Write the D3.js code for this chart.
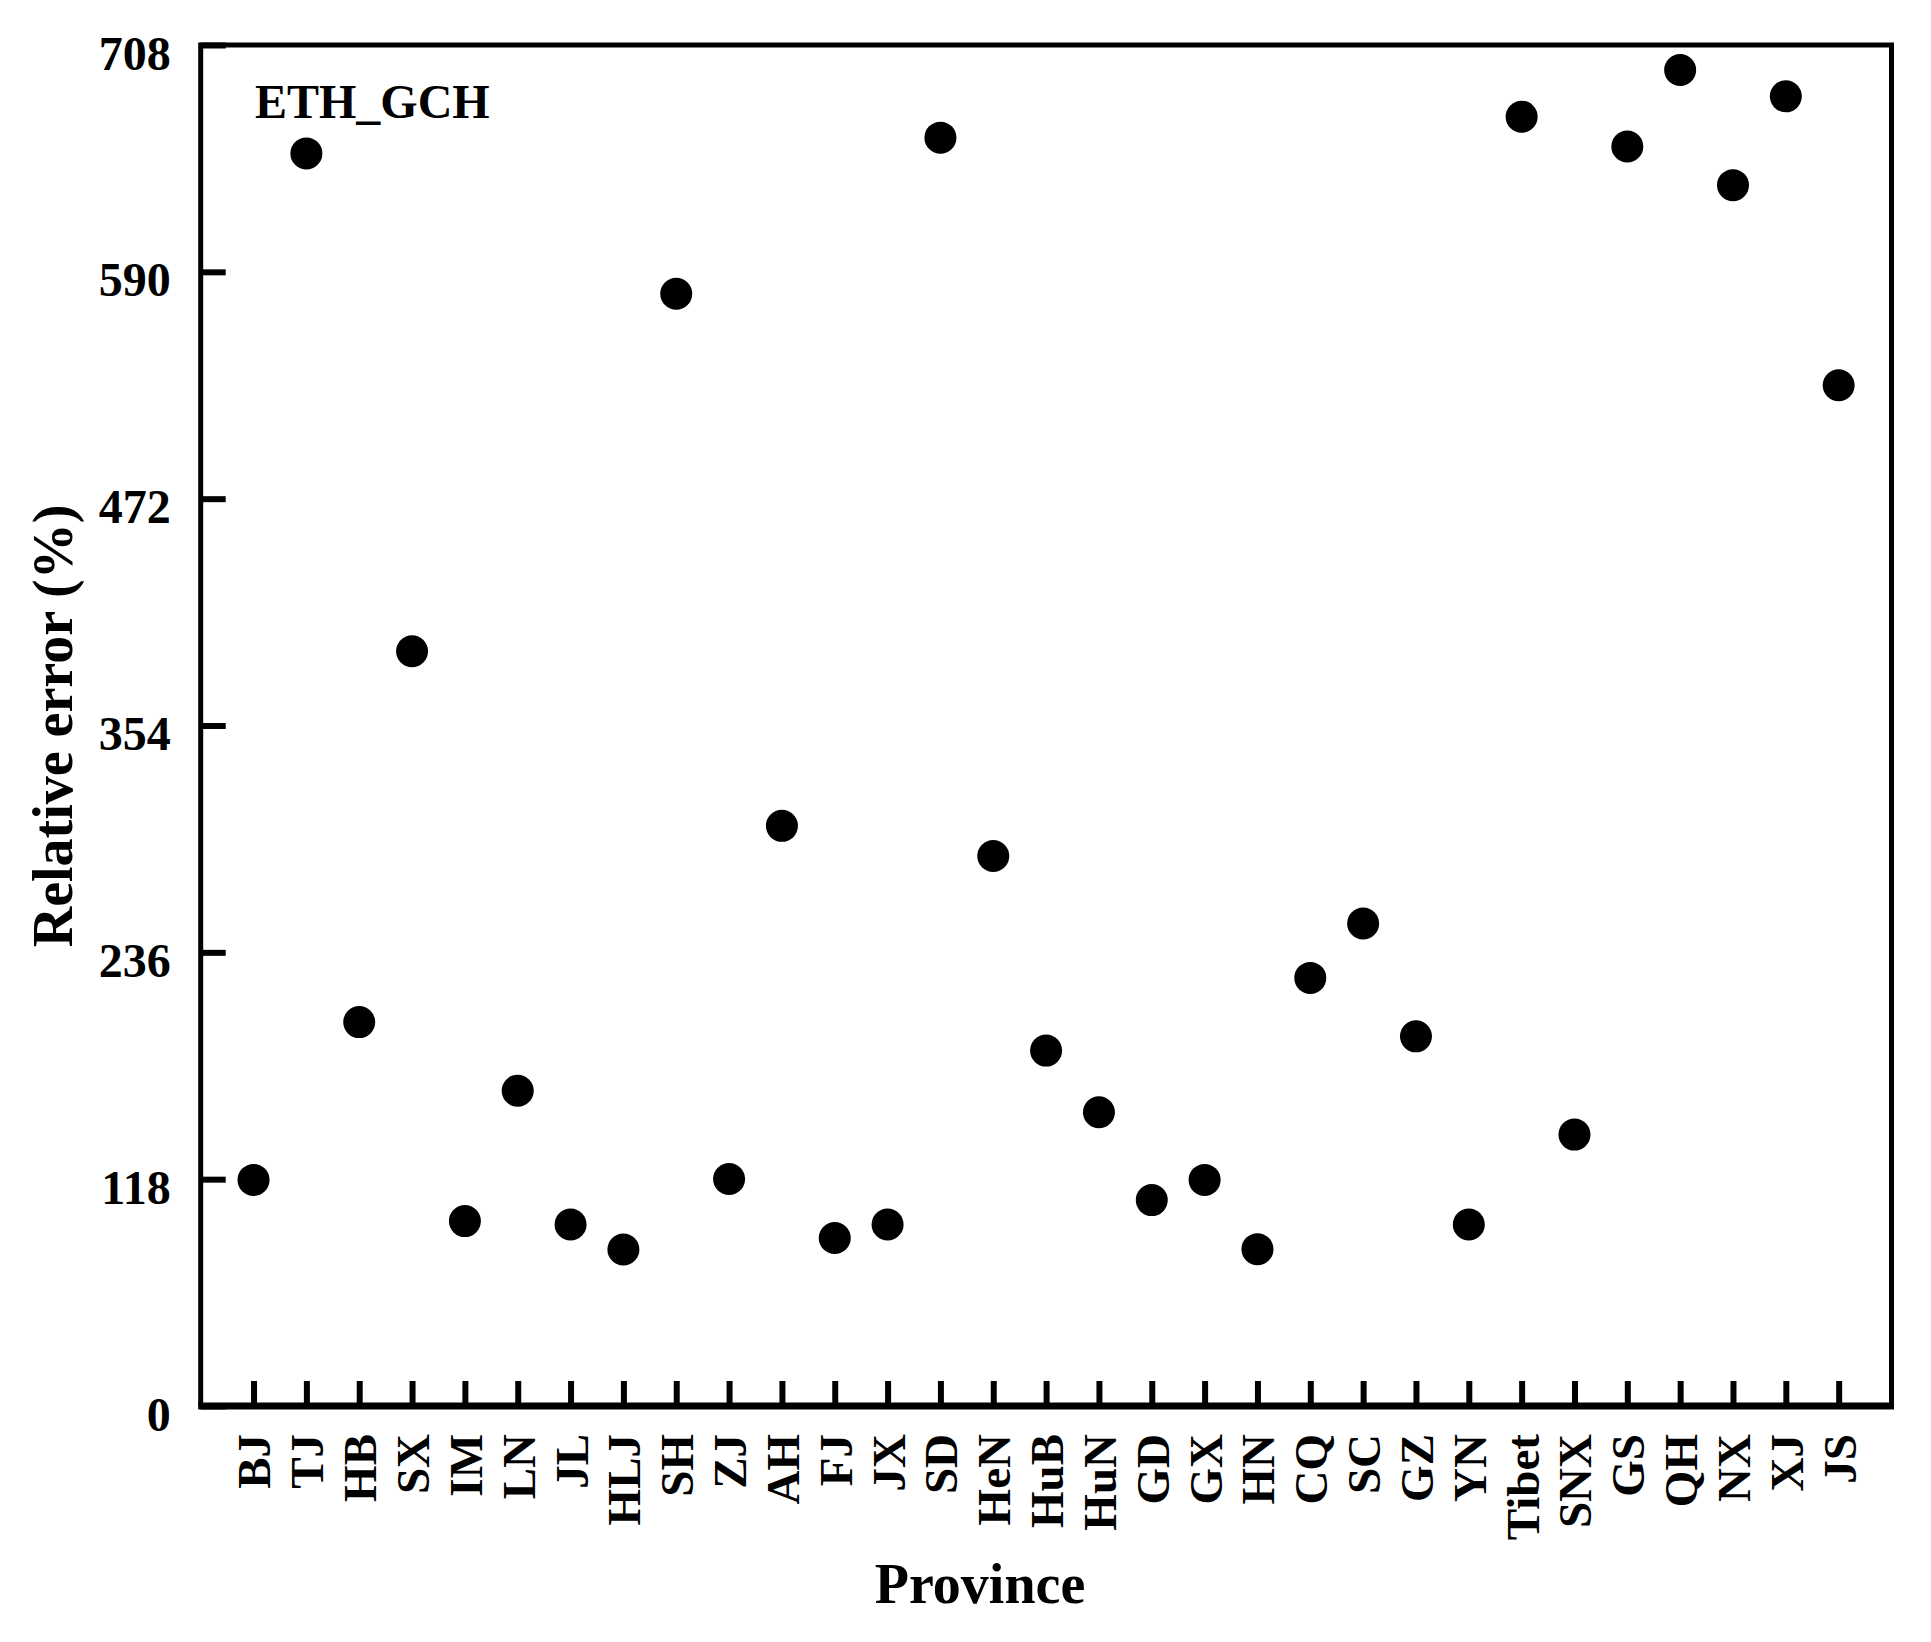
<!DOCTYPE html>
<html>
<head>
<meta charset="utf-8">
<script src="https://cdn.jsdelivr.net/npm/d3@7"></script>
<style>
	body { margin: 0; background: #fff; }
	text { font-family: 'Liberation Serif', 'Times New Roman', serif; font-weight: bold; fill: #000; }
</style>
</head>
<body>
<div id="chart"></div>
<script>
var provinces = ['BJ', 'TJ', 'HB', 'SX', 'IM', 'LN', 'JL', 'HLJ', 'SH', 'ZJ', 'AH', 'FJ', 'JX', 'SD', 'HeN', 'HuB',
	'HuN', 'GD', 'GX', 'HN', 'CQ', 'SC', 'GZ', 'YN', 'Tibet', 'SNX', 'GS', 'QH', 'NX', 'XJ', 'JS'];
// relative error (%) per province, ETH_GCH
var relError = [117.6, 651.6, 199.7, 392.6, 96.2, 164.0, 94.4, 81.4, 578.6, 118.1, 301.8, 87.4, 94.4, 659.8, 286.1, 184.9,
	152.8, 107.1, 117.6, 81.6, 222.7, 251.0, 192.3, 94.4, 670.7, 141.2, 655.2, 695.0, 635.1, 681.3, 531.0];
var yTicks = [0, 118, 236, 354, 472, 590, 708];

var width = 1931,
	height = 1642;
var frame = {
	left: 200.7,
	right: 1891.5,
	top: 45,
	bottom: 1406
};

var svg = d3.select('#chart').append('svg')
	.attr('width', width)
	.attr('height', height);

var xScale = d3.scaleLinear()
	.domain([-1, 31])
	.range([frame.left, frame.right]);

var yScale = d3.scaleLinear()
	.domain([0, 708])
	.range([frame.bottom, frame.top]);

//y轴
var yAxis = svg.append('g')
	.attr('transform', 'translate(' + frame.left + ',0)')
	.call(d3.axisLeft(yScale).tickValues(yTicks).tickSize(-25).tickPadding(30));
yAxis.select('.domain').remove();
yAxis.selectAll('line').attr('stroke', '#000').attr('stroke-width', 6);
yAxis.selectAll('text')
	.attr('dy', '0.5em')
	.style('font-size', '48px');

//x轴
var xAxis = svg.append('g')
	.attr('transform', 'translate(0,' + frame.bottom + ')')
	.call(d3.axisBottom(xScale).tickValues(d3.range(provinces.length)).tickFormat(i => provinces[i]).tickSize(-25));
xAxis.select('.domain').remove();
xAxis.selectAll('line').attr('stroke', '#000').attr('stroke-width', 6);
xAxis.selectAll('text')
	.attr('transform', 'rotate(-90)')
	.attr('x', -28)
	.attr('y', 0)
	.attr('dy', '0.35em')
	.style('text-anchor', 'end')
	.style('font-size', '47px');

// frame
svg.append('path')
	.attr('d', 'M' + frame.left + ',' + frame.bottom + 'V' + frame.top + 'H' + frame.right + 'V' + frame.bottom)
	.attr('fill', 'none')
	.attr('stroke', '#000')
	.attr('stroke-width', 5);
svg.append('line')
	.attr('x1', frame.left - 2.5)
	.attr('x2', frame.right + 2.5)
	.attr('y1', frame.bottom)
	.attr('y2', frame.bottom)
	.attr('stroke', '#000')
	.attr('stroke-width', 7);

svg.selectAll('.dot')
	.data(relError)
	.enter()
	.append('circle')
	.attr('class', 'dot')
	.attr('cx', (d, i) => xScale(i))
	.attr('cy', d => yScale(d))
	.attr('r', 16)
	.attr('fill', '#000');

svg.append('text')
	.attr('x', 255)
	.attr('y', 118)
	.style('font-size', '48px')
	.text('ETH_GCH');

svg.append('text')
	.attr('transform', 'translate(72,726) rotate(-90)')
	.style('text-anchor', 'middle')
	.style('font-size', '56px')
	.text('Relative error (%)');

svg.append('text')
	.attr('x', 980)
	.attr('y', 1603)
	.style('text-anchor', 'middle')
	.style('font-size', '56px')
	.text('Province');
</script>
</body>
</html>
